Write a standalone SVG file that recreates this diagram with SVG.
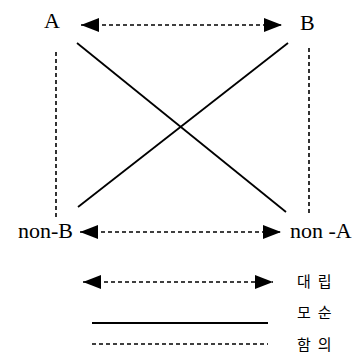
<svg xmlns="http://www.w3.org/2000/svg" width="354" height="359" viewBox="0 0 354 359">
<style>
.lbl{font-family:'Liberation Serif','DejaVu Serif',serif;font-size:22px;fill:#000}
.ko{font-family:'Noto Sans CJK KR',sans-serif;font-size:15px;fill:#000;letter-spacing:7px}
.dash{stroke:#000;stroke-width:1.6;stroke-dasharray:4 3;fill:none}
.solid{stroke:#000;stroke-width:1.8;fill:none}
</style>
<defs>
<marker id="ah" markerUnits="userSpaceOnUse" markerWidth="19" markerHeight="15" refX="18" refY="7" orient="auto-start-reverse" viewBox="0 0 19 15">
<path d="M0,0 L18,7 L0,14 z" fill="#000"/>
</marker>
</defs>
<g id="nodes">
<g id="nA"><text class="lbl" x="44" y="28">A</text></g>
<g id="nB"><text class="lbl" x="300" y="30">B</text></g>
<g id="nNonB"><text class="lbl" x="73" y="238" text-anchor="end">non-B</text></g>
<g id="nNonA"><text class="lbl" x="290" y="238">non -A</text></g>
</g>
<g id="connectors">
<line class="dash" x1="81" y1="25" x2="282" y2="25" marker-start="url(#ah)" marker-end="url(#ah)"/>
<line class="dash" x1="56" y1="52" x2="56" y2="217"/>
<line class="dash" x1="309" y1="48" x2="309" y2="215"/>
<line class="solid" x1="77" y1="43" x2="286" y2="212"/>
<line class="solid" x1="288" y1="43" x2="78" y2="207"/>
<line class="dash" x1="80" y1="232" x2="281" y2="232" marker-start="url(#ah)" marker-end="url(#ah)"/>
</g>
<g id="legend">
<line class="dash" x1="83" y1="282" x2="273" y2="282" marker-start="url(#ah)" marker-end="url(#ah)"/>
<text class="ko" x="297" y="287">대립</text>
<line class="solid" x1="92" y1="323" x2="268" y2="323"/>
<text class="ko" x="297" y="318">모순</text>
<line class="dash" x1="92" y1="344" x2="268" y2="344"/>
<text class="ko" x="297" y="350">함의</text>
</g>
</svg>
